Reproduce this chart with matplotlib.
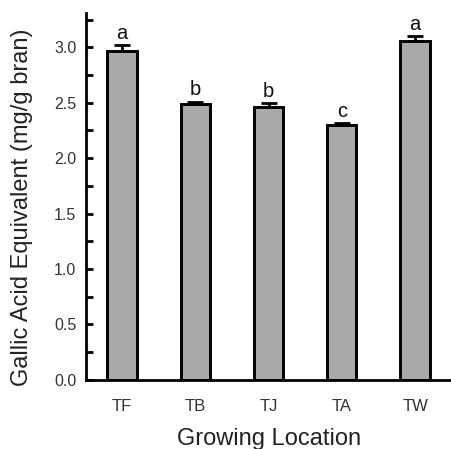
import matplotlib
matplotlib.use("Agg")
import matplotlib.pyplot as plt
from matplotlib.ticker import MultipleLocator, FormatStrFormatter

locations = ["TF", "TB", "TJ", "TA", "TW"]
gae = [2.97, 2.49, 2.46, 2.30, 3.06]
err = [0.05, 0.02, 0.04, 0.02, 0.04]
groups = ["a", "b", "b", "c", "a"]

plt.rcParams["font.family"] = ["Liberation Sans", "DejaVu Sans"]

fig = plt.figure(figsize=(4.51, 4.49), dpi=100)
ax = fig.add_axes([0.191, 0.154, 0.809, 0.817])

x = list(range(len(locations)))
# only the upper half of each error bar is drawn, as in the reference
ax.bar(x, gae, width=0.4, color="#a9a9a9", edgecolor="black", linewidth=2.1,
       yerr=[[0] * len(err), err], capsize=6,
       error_kw=dict(elinewidth=2.0, capthick=2.0, ecolor="black"), zorder=2)

for xi, v, e, g in zip(x, gae, err, groups):
    ax.text(xi, v + e + 0.02, g, ha="center", va="bottom", fontsize=14.5, color="#111111")

ax.set_xlim(-0.49, 4.49)
ax.set_ylim(0, 3.31)
ax.yaxis.set_major_locator(MultipleLocator(0.5))
ax.yaxis.set_minor_locator(MultipleLocator(0.25))
ax.yaxis.set_major_formatter(FormatStrFormatter("%.1f"))
ax.tick_params(axis="y", which="both", direction="in", length=5, width=2.0,
               labelsize=11.5, labelcolor="#333333", pad=7)
ax.tick_params(axis="x", length=0, labelsize=12, labelcolor="#333333", pad=14)
ax.set_xticks(x)
ax.set_xticklabels(locations)

for side in ["top", "right"]:
    ax.spines[side].set_visible(False)
for side in ["left", "bottom"]:
    ax.spines[side].set_linewidth(2.0)

ax.set_ylabel("Gallic Acid Equivalent (mg/g bran)", fontsize=17, color="#222222")
ax.set_xlabel("Growing Location", fontsize=17, color="#222222")
ax.yaxis.set_label_coords(-0.145, 0.47)
ax.xaxis.set_label_coords(0.5, -0.132)

fig.savefig("out.png", dpi=100)
